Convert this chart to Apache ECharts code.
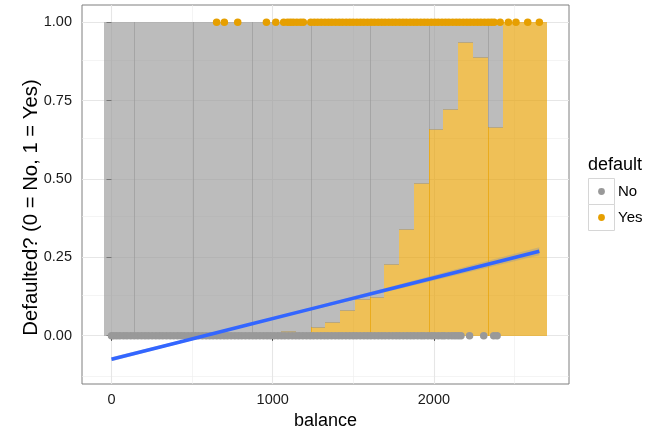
<!DOCTYPE html>
<html>
<head>
<meta charset="utf-8">
<script src="https://cdn.jsdelivr.net/npm/echarts@6/dist/echarts.min.js"></script>
<style>
  html, body { margin: 0; padding: 0; background: #ffffff; }
  #chart { width: 652px; height: 429px; }
</style>
</head>
<body>
<div id="chart"></div>
<script>
// Histogram of balance (30 bins), filled to proportions: share of "Yes" per bin
const binStart = -45.76;
const binWidth = 91.53;
const yesShare = [
  0, 0, 0, 0, 0, 0, 0, 0, 0, 0.003,
  0.004, 0.006, 0.015, 0.009, 0.028, 0.043, 0.082, 0.117, 0.123, 0.228,
  0.340, 0.487, 0.659, 0.722, 0.937, 0.889, 0.666, 1, 1, 1
];

// Individual customers: balance of those who did not default (y = 0) and who did (y = 1)
const noBalance = [
  0, 14, 33, 52, 75, 96, 119, 141, 163, 186, 208, 229, 252, 275, 297, 318, 341, 364, 386, 409,
  431, 452, 475, 498, 520, 541, 564, 587, 609, 630, 653, 676, 698, 719, 742, 765, 787, 808, 831, 854,
  876, 897, 920, 943, 965, 986, 1009, 1032, 1054, 1075, 1098, 1121, 1143, 1164, 1187, 1210, 1232, 1253,
  1276, 1299, 1321, 1342, 1365, 1388, 1410, 1431, 1454, 1477, 1499, 1520, 1543, 1566, 1588, 1609, 1632,
  1655, 1677, 1698, 1721, 1744, 1766, 1787, 1810, 1833, 1855, 1876, 1899, 1921, 1940, 1963, 1985, 2004,
  2027, 2049, 2066, 2090, 2112, 2131, 2150, 2168, 2221, 2309, 2371, 2392
];
const yesBalance = [
  652, 700, 783, 961, 1019, 1068, 1092, 1110, 1128, 1150, 1172, 1190, 1236, 1258, 1279, 1301, 1324,
  1346, 1367, 1390, 1412, 1433, 1456, 1478, 1499, 1522, 1544, 1565, 1588, 1610, 1631, 1654, 1676, 1697,
  1720, 1742, 1763, 1786, 1808, 1829, 1852, 1874, 1895, 1918, 1940, 1961, 1984, 2006, 2027, 2050, 2072,
  2093, 2116, 2138, 2159, 2182, 2204, 2225, 2248, 2270, 2291, 2314, 2336, 2356, 2374, 2411, 2462, 2509,
  2582, 2654
];

// Linear fit of default on balance, with its 95% confidence band
const fitX = [0, 400, 835, 1300, 1800, 2200, 2654];
const fitY = [-0.0752, -0.0232, 0.0333, 0.0937, 0.1586, 0.2106, 0.2696];
const fitLow = [-0.0818, -0.0276, 0.0300, 0.0891, 0.1513, 0.2007, 0.2568];
const fitHigh = [-0.0686, -0.0188, 0.0366, 0.0983, 0.1660, 0.2205, 0.2824];

// Axis ticks
const xTicks = [0, 1000, 2000];
const xMinor = [500, 1500, 2500];
const yTicks = [0, 0.25, 0.5, 0.75, 1];
const yMinor = [-0.125, 0.125, 0.375, 0.625, 0.875];

const GREY_A = 'rgba(153,153,153,0.66)';
const ORANGE_A = 'rgba(230,159,0,0.66)';
const FONT = '"Liberation Sans", Arial, Helvetica, sans-serif';

const histData = yesShare.map((s, i) => [binStart + i * binWidth, binStart + (i + 1) * binWidth, s]);

function renderBin(params, api) {
  const i = params.dataIndex;
  const x0 = api.value(0), x1 = api.value(1), yes = api.value(2);
  const L = Math.round(api.coord([x0, 0])[0]);
  const R = Math.round(api.coord([x1, 0])[0]);
  const yB = Math.round(api.coord([x0, 0])[1]);
  const yT = Math.round(api.coord([x0, 1])[1]);
  const yM = Math.round(api.coord([x0, yes])[1]);
  const kids = [];
  if (yM > yT) kids.push({ type: 'rect', shape: { x: L, y: yT, width: R - L, height: yM - yT }, style: { fill: GREY_A } });
  if (yB > yM) kids.push({ type: 'rect', shape: { x: L, y: yM, width: R - L, height: yB - yM }, style: { fill: ORANGE_A } });
  if (yes > 0 && yes < 1 && yM < yB - 1) {
    kids.push({ type: 'rect', shape: { x: L, y: yM, width: R - L, height: 1 }, style: { fill: GREY_A } });
  }
  // overlapping edges of neighbouring bar groups
  if (i % 4 === 2) {
    if (yM > yT) kids.push({ type: 'rect', shape: { x: L, y: yT, width: 1, height: yM - yT }, style: { fill: GREY_A } });
    if (yB > yM) kids.push({ type: 'rect', shape: { x: L, y: yM, width: 1, height: yB - yM }, style: { fill: ORANGE_A } });
  }
  return { type: 'group', children: kids };
}

function renderBand(params, api) {
  const pts = [];
  for (let k = 0; k < fitX.length; k++) pts.push(api.coord([fitX[k], fitHigh[k]]));
  for (let k = fitX.length - 1; k >= 0; k--) pts.push(api.coord([fitX[k], fitLow[k]]));
  return { type: 'polygon', shape: { points: pts }, style: { fill: 'rgba(153,153,153,0.4)' } };
}

const chart = echarts.init(document.getElementById('chart'), null, { renderer: 'canvas' });

const gridLine = (w, c) => ({ color: c, width: w, type: 'solid' });

chart.setOption({
  animation: false,
  backgroundColor: '#ffffff',
  textStyle: { fontFamily: FONT },
  grid: {
    left: 82, right: 83, top: 5, bottom: 45,
    outerBoundsMode: 'none', containLabel: false,
    show: true, borderColor: '#7f7f7f', borderWidth: 1, backgroundColor: '#ffffff'
  },
  xAxis: {
    type: 'value', min: -183, max: 2838,
    name: 'balance', nameLocation: 'middle', nameGap: 19,
    nameTextStyle: { fontSize: 18, color: '#000000', fontFamily: FONT },
    axisLine: { show: false },
    axisTick: { show: true, customValues: xTicks, length: 5, lineStyle: { color: '#333333', width: 1 } },
    axisLabel: { customValues: xTicks, fontSize: 14.5, color: '#1a1a1a', margin: 8, fontFamily: FONT,
      formatter: v => String(v) },
    splitLine: { show: false }
  },
  yAxis: {
    type: 'value', min: -0.154, max: 1.055,
    axisLine: { show: false },
    axisTick: { show: true, customValues: yTicks, length: 5, lineStyle: { color: '#333333', width: 1 } },
    axisLabel: { customValues: yTicks, fontSize: 14.5, color: '#1a1a1a', margin: 10, fontFamily: FONT,
      formatter: v => v.toFixed(2) },
    splitLine: { show: false }
  },
  series: [
    {
      // panel grid
      type: 'line', data: [], z: 0, silent: true,
      markLine: {
        silent: true, z: 0, symbol: ['none', 'none'], label: { show: false }, animation: false,
        data: [
          ...xMinor.map(v => ({ xAxis: v, lineStyle: gridLine(0.6, '#ececec') })),
          ...yMinor.map(v => ({ yAxis: v, lineStyle: gridLine(0.6, '#ececec') })),
          ...xTicks.map(v => ({ xAxis: v, lineStyle: gridLine(1.1, '#e6e6e6') })),
          ...yTicks.map(v => ({ yAxis: v, lineStyle: gridLine(1.1, '#e6e6e6') }))
        ]
      }
    },
    {
      type: 'custom', renderItem: renderBin, data: histData, z: 10, silent: true,
      encode: { x: [0, 1], y: 2 }, clip: true
    },
    {
      type: 'scatter', name: 'No', data: noBalance.map(b => [b, 0]), symbol: 'circle', symbolSize: 7.5,
      itemStyle: { color: '#999999', opacity: 1 }, z: 11, silent: true
    },
    {
      type: 'scatter', name: 'Yes', data: yesBalance.map(b => [b, 1]), symbol: 'circle', symbolSize: 7.5,
      itemStyle: { color: '#E69F00', opacity: 1 }, z: 11, silent: true
    },
    {
      type: 'custom', renderItem: renderBand, data: [[0, 0]], z: 12, silent: true
    },
    {
      type: 'line', data: fitX.map((x, k) => [x, fitY[k]]), symbol: 'none', z: 13, silent: true,
      lineStyle: { color: '#3366FF', width: 3.5 }
    }
  ],
  graphic: [
    // y axis title
    { type: 'text', x: 31, y: 207.5, rotation: Math.PI / 2,
      style: { text: 'Defaulted? (0 = No, 1 = Yes)', font: '20.3px ' + FONT, fill: '#000', align: 'center', verticalAlign: 'middle' } },
    // legend
    { type: 'text', left: 588, top: 156, style: { text: 'default', fontSize: 18, fill: '#000', font: '18px ' + FONT } },
    { type: 'rect', shape: { x: 588.5, y: 178.5, width: 26, height: 26 }, style: { fill: '#fff', stroke: '#d6d6d6', lineWidth: 1 } },
    { type: 'rect', shape: { x: 588.5, y: 204.5, width: 26, height: 26 }, style: { fill: '#fff', stroke: '#d6d6d6', lineWidth: 1 } },
    { type: 'circle', shape: { cx: 601.5, cy: 191.5, r: 3.4 }, style: { fill: '#999999' } },
    { type: 'circle', shape: { cx: 601.5, cy: 217.5, r: 3.4 }, style: { fill: '#E69F00' } },
    { type: 'text', x: 618, y: 191.5, style: { text: 'No', font: '15px ' + FONT, fill: '#000', verticalAlign: 'middle' } },
    { type: 'text', x: 618, y: 217.5, style: { text: 'Yes', font: '15px ' + FONT, fill: '#000', verticalAlign: 'middle' } }
  ]
});
</script>
</body>
</html>
